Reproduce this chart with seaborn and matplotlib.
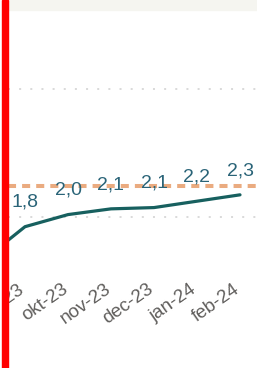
import matplotlib
matplotlib.use("Agg")
import matplotlib.pyplot as plt
from matplotlib.patches import Rectangle
from matplotlib.transforms import ScaledTranslation
import seaborn as sns
import pandas as pd

# ---- data ----
months = ["aug-23", "sep-23", "okt-23", "nov-23", "dec-23", "jan-24", "feb-24"]
values = [1.30, 1.84, 2.03, 2.12, 2.14, 2.24, 2.34]
target = 2.48
grid_values = [2, 4]

df = pd.DataFrame({"idx": range(len(months)), "month": months, "value": values})

sns.set_theme(style="white")
plt.rcParams["font.family"] = ["Liberation Sans", "DejaVu Sans"]

W, H = 257, 368
fig = plt.figure(figsize=(W / 100, H / 100), dpi=100)

# axes geometry in pixels
ax_left_px, ax_top_px, ax_bot_px = 8, 20, 279
ax = fig.add_axes([ax_left_px / W, 1 - ax_bot_px / H,
                   (W - ax_left_px) / W, (ax_bot_px - ax_top_px) / H])

ppu = 63.75
def v_at(ypx):
    return 2 + (216.5 - ypx) / ppu
step = 43.0

for gv in grid_values:
    ax.axhline(gv, color="#cfcfcf", lw=1.1, ls=(0, (1.3, 6)), zorder=0)

ax.axhline(target, color="#EAAB80", lw=2.9, ls=(0, (2.0, 1.5)), zorder=1)

sns.lineplot(data=df, x="idx", y="value", ax=ax, color="#17605F",
             lw=2.3, sort=False, zorder=2)

ax.set_xticks(list(df["idx"]))
ax.set_xticklabels(months)
ax.set_yticks([])
ax.set_xlabel("")
ax.set_ylabel("")

ax.set_ylim(v_at(ax_bot_px), v_at(ax_top_px))
ax.set_xlim(1 - (25 - ax_left_px) / step, 1 + (W - 25) / step)

for i, v in zip(df["idx"], df["value"]):
    ax.annotate(f"{v:.1f}".replace(".", ","), (i, v), xytext=(0, 17.5),
                textcoords="offset points", ha="center", va="center",
                fontsize=14, color="#2A6478", zorder=3)

ax.tick_params(axis="x", length=0, pad=3.5, labelsize=13.5, colors="#605E5C")
shift = ScaledTranslation(-7 / 100, 3 / 100, fig.dpi_scale_trans)
for lab in ax.get_xticklabels():
    lab.set_rotation(35)
    lab.set_ha("right")
    lab.set_va("top")
    lab.set_rotation_mode("anchor")
    lab.set_transform(lab.get_transform() + shift)
for s in ax.spines.values():
    s.set_visible(False)
ax.patch.set_alpha(0)

# top light band
fig.add_artist(Rectangle((ax_left_px / W, 1 - 9.5 / H), 1, 9.5 / H,
                         transform=fig.transFigure, color="#F5F5F0", zorder=5))
# left white strip and red bar
fig.add_artist(Rectangle((0, 0), 2 / W, 1, transform=fig.transFigure,
                         color="white", zorder=6))
fig.add_artist(Rectangle((2 / W, 0), 5.5 / W, 1, transform=fig.transFigure,
                         color="#FF0000", zorder=7))

fig.savefig("out.png", dpi=100)
